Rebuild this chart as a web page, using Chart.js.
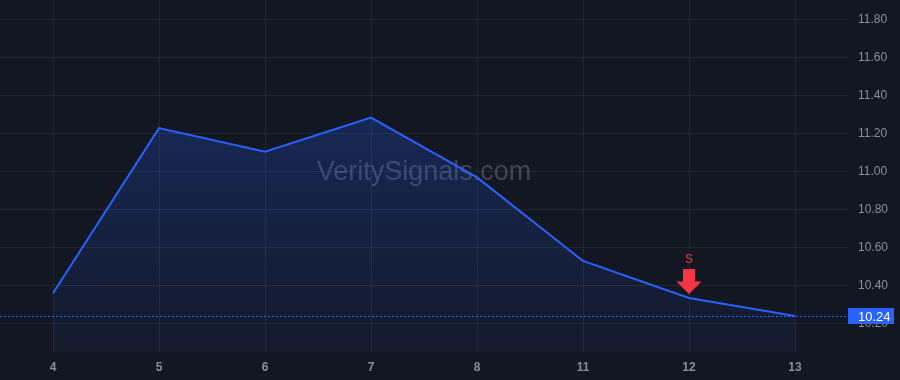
<!DOCTYPE html>
<html>
<head>
<meta charset="utf-8">
<script src="https://cdn.jsdelivr.net/npm/chart.js@4"></script>
<style>
  html, body { margin: 0; padding: 0; background: #131722; }
  #wrap { width: 900px; height: 380px; }
</style>
</head>
<body>
<div id="wrap"><canvas id="chart"></canvas></div>
<script>
// chart data
const labels = ['4', '5', '6', '7', '8', '11', '12', '13'];
const prices = [10.36, 11.23, 11.105, 11.285, 10.97, 10.53, 10.335, 10.24];
const yTicks = [10.2, 10.4, 10.6, 10.8, 11.0, 11.2, 11.4, 11.6, 11.8];
const lastPrice = 10.24;
const signalIndex = 6; // sell marker at "12"
const signalText = 'S';
const watermark = 'VeritySignals.com';

const GRID = 'rgba(255,255,255,0.07)';
const TEXT = '#8a8e98';
const BLUE = '#2962ff';
const RED = '#f23645';

const overlay = {
    id: 'overlay',
    beforeDatasetsDraw(chart) {
        const { ctx, chartArea } = chart;
        ctx.save();
        ctx.font = '27px "Liberation Sans", Arial, sans-serif';
        ctx.fillStyle = 'rgba(140,144,156,0.38)';
        ctx.textAlign = 'center';
        ctx.textBaseline = 'middle';
        ctx.fillText(watermark, (chartArea.left + chartArea.right) / 2, 173);
        ctx.restore();
    },
    afterDatasetsDraw(chart) {
        const { ctx, chartArea, scales } = chart;
        const y = scales.y.getPixelForValue(lastPrice);
        ctx.save();
        // last price dotted line
        ctx.strokeStyle = BLUE;
        ctx.lineWidth = 1;
        ctx.setLineDash([2, 2]);
        ctx.beginPath();
        ctx.moveTo(chartArea.left, Math.round(y) + 0.5);
        ctx.lineTo(chartArea.right, Math.round(y) + 0.5);
        ctx.stroke();
        ctx.setLineDash([]);

        // sell arrow
        const ax = scales.x.getPixelForValue(signalIndex);
        const ay = scales.y.getPixelForValue(prices[signalIndex]) - 4;
        ctx.fillStyle = RED;
        ctx.beginPath();
        ctx.moveTo(ax, ay);
        ctx.lineTo(ax - 12.5, ay - 12.5);
        ctx.lineTo(ax - 6, ay - 12.5);
        ctx.lineTo(ax - 6, ay - 25);
        ctx.lineTo(ax + 6, ay - 25);
        ctx.lineTo(ax + 6, ay - 12.5);
        ctx.lineTo(ax + 12.5, ay - 12.5);
        ctx.closePath();
        ctx.fill();
        ctx.font = '12px "Liberation Sans", Arial, sans-serif';
        ctx.textAlign = 'center';
        ctx.textBaseline = 'middle';
        ctx.fillText(signalText, ax, ay - 34);

        // price label on axis
        const bx = chartArea.right;
        ctx.fillStyle = BLUE;
        ctx.fillRect(bx, Math.round(y) - 8, 46, 16);
        ctx.fillStyle = '#ffffff';
        ctx.font = '13px "Liberation Sans", Arial, sans-serif';
        ctx.textAlign = 'left';
        ctx.fillText(lastPrice.toFixed(2), bx + 10, Math.round(y) + 1);
        ctx.restore();
    }
};

const ctx = document.getElementById('chart').getContext('2d');
new Chart(ctx, {
    type: 'line',
    data: {
        labels: labels,
        datasets: [{
            data: prices,
            borderColor: BLUE,
            borderWidth: 2,
            pointRadius: 0,
            tension: 0,
            fill: 'start',
            backgroundColor: function (context) {
                const area = context.chart.chartArea;
                if (!area) return 'rgba(41,98,255,0.15)';
                const g = context.chart.ctx.createLinearGradient(0, area.top + 110, 0, area.bottom);
                g.addColorStop(0, 'rgba(41,98,255,0.24)');
                g.addColorStop(1, 'rgba(41,98,255,0.04)');
                return g;
            }
        }]
    },
    options: {
        responsive: true,
        maintainAspectRatio: false,
        animation: false,
        layout: { padding: 0 },
        plugins: {
            legend: { display: false },
            tooltip: { enabled: false }
        },
        scales: {
            x: {
                offset: true,
                grid: { color: GRID, offset: false, drawTicks: false },
                border: { display: false },
                ticks: {
                    color: TEXT,
                    padding: 8,
                    font: { family: 'Liberation Sans', size: 12, weight: 'bold' }
                },
                afterFit(scale) {
                    scale.height = 28;
                    scale.paddingLeft = 0;
                    scale.paddingRight = 0;
                }
            },
            y: {
                position: 'right',
                min: 10.05,
                max: 11.905,
                grid: { color: GRID, drawTicks: false },
                border: { display: false },
                afterBuildTicks(scale) {
                    scale.ticks = yTicks.map(v => ({ value: v }));
                },
                ticks: {
                    color: TEXT,
                    padding: 10,
                    font: { family: 'Liberation Sans', size: 12 },
                    callback: v => Number(v).toFixed(2)
                },
                afterFit(scale) {
                    scale.width = 52;
                    scale.paddingTop = 0;
                    scale.paddingBottom = 0;
                }
            }
        }
    },
    plugins: [overlay]
});
</script>
</body>
</html>
